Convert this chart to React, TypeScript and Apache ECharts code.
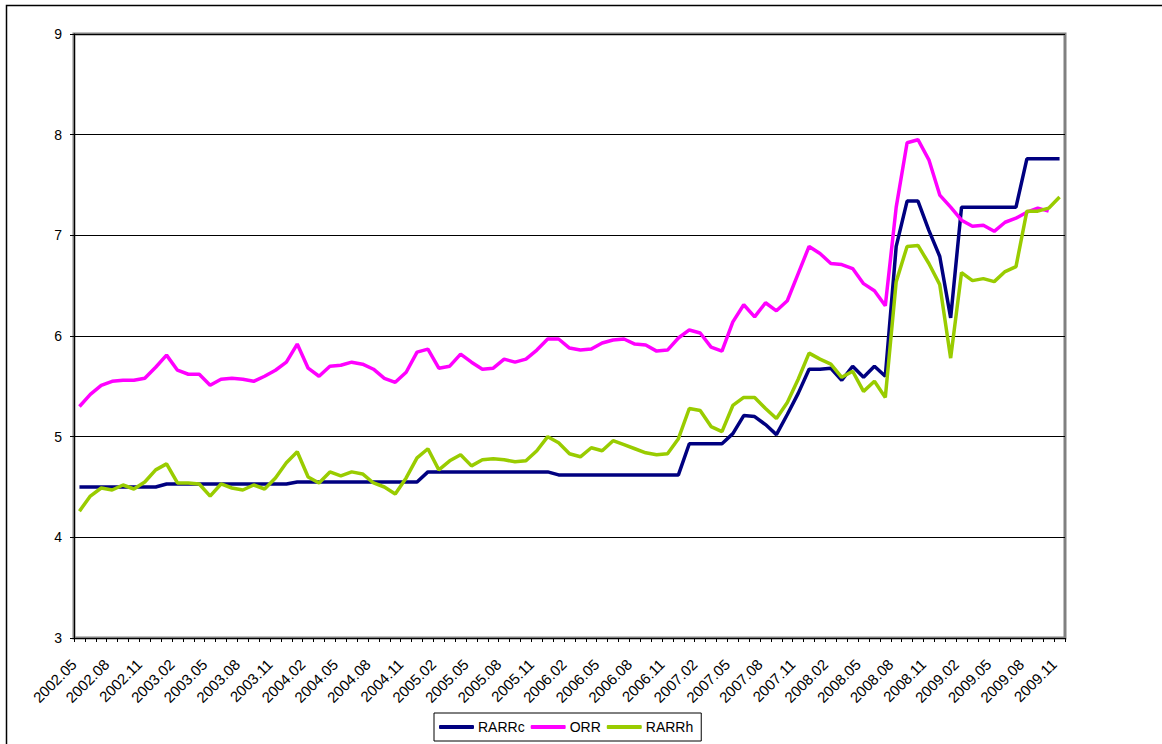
import { useEffect, useRef } from 'react';
import * as echarts from 'echarts';

// monthly points, 2002.05 .. 2009.11
const categories: string[] = Array.from({ length: 91 }, (_, i) => {
  const t = 2002 * 12 + 4 + i;
  const year = Math.floor(t / 12);
  const month = (t % 12) + 1;
  return `${year}.${String(month).padStart(2, '0')}`;
});

const rarrc = [
  4.5, 4.5, 4.5, 4.5, 4.5, 4.5, 4.5, 4.5, 4.53, 4.53,
  4.53, 4.53, 4.53, 4.53, 4.53, 4.53, 4.53, 4.53, 4.53, 4.53,
  4.55, 4.55, 4.55, 4.55, 4.55, 4.55, 4.55, 4.55, 4.55, 4.55,
  4.55, 4.55, 4.65, 4.65, 4.65, 4.65, 4.65, 4.65, 4.65, 4.65,
  4.65, 4.65, 4.65, 4.65, 4.62, 4.62, 4.62, 4.62, 4.62, 4.62,
  4.62, 4.62, 4.62, 4.62, 4.62, 4.62, 4.93, 4.93, 4.93, 4.93,
  5.03, 5.21, 5.2, 5.12, 5.02, 5.22, 5.43, 5.67, 5.67, 5.68,
  5.56, 5.7, 5.59, 5.7, 5.6, 6.89, 7.34, 7.34, 7.05, 6.79,
  6.18, 7.28, 7.28, 7.28, 7.28, 7.28, 7.28, 7.76, 7.76, 7.76,
  7.76,
];

const orr = [
  5.3, 5.42, 5.51, 5.55, 5.56, 5.56, 5.58, 5.69, 5.81, 5.66,
  5.62, 5.62, 5.51, 5.57, 5.58, 5.57, 5.55, 5.6, 5.66, 5.74,
  5.92, 5.68, 5.6, 5.7, 5.71, 5.74, 5.72, 5.67, 5.58, 5.54,
  5.64, 5.84, 5.87, 5.68, 5.7, 5.82, 5.74, 5.67, 5.68, 5.77,
  5.74, 5.77, 5.86, 5.97, 5.97, 5.88, 5.86, 5.87, 5.93, 5.96,
  5.97, 5.92, 5.91, 5.85, 5.86, 5.98, 6.06, 6.03, 5.89, 5.85,
  6.14, 6.31, 6.19, 6.33, 6.25, 6.35, 6.62, 6.89, 6.82, 6.72,
  6.71, 6.67, 6.52, 6.45, 6.3, 7.28, 7.92, 7.95, 7.75, 7.4,
  7.28, 7.15, 7.09, 7.1, 7.04, 7.13, 7.17, 7.23, 7.27, 7.24,
  null,
];

const rarrh = [
  4.26, 4.41, 4.49, 4.47, 4.52, 4.48, 4.55, 4.67, 4.73, 4.54,
  4.54, 4.53, 4.41, 4.53, 4.49, 4.47, 4.52, 4.48, 4.59, 4.74,
  4.85, 4.6, 4.54, 4.65, 4.61, 4.65, 4.63, 4.54, 4.5, 4.43,
  4.59, 4.79, 4.88, 4.67, 4.76, 4.82, 4.71, 4.77, 4.78, 4.77,
  4.75, 4.76, 4.86, 5.0, 4.94, 4.83, 4.8, 4.89, 4.86, 4.96,
  4.92, 4.88, 4.84, 4.82, 4.83, 4.98, 5.28, 5.26, 5.1, 5.05,
  5.31, 5.39, 5.39, 5.28, 5.18, 5.34, 5.57, 5.83, 5.77, 5.72,
  5.59, 5.65, 5.45, 5.55, 5.39, 6.54, 6.89, 6.9, 6.72, 6.51,
  5.78, 6.63, 6.55, 6.57, 6.54, 6.64, 6.69, 7.24, 7.24, 7.27,
  7.38,
];

const seriesList = [
  { name: 'RARRc', data: rarrc, color: '#000080' },
  { name: 'ORR', data: orr, color: '#FF00FF' },
  { name: 'RARRh', data: rarrh, color: '#99CC00' },
];

const font = '"Liberation Sans", Arial, sans-serif';

const App = () => {
  const chartRef = useRef<HTMLDivElement>(null);

  useEffect(() => {
    if (!chartRef.current) return;

    const chart = echarts.init(chartRef.current, undefined, { renderer: 'svg' });

    const option = {
      animation: false,
      backgroundColor: '#fff',
      textStyle: { fontFamily: font },
      graphic: [
        {
          type: 'rect',
          shape: { x: 6.5, y: 5.5, width: 1200, height: 800 },
          style: { fill: 'none', stroke: '#000', lineWidth: 1.5 },
          silent: true,
          z: -10,
        },
      ],
      legend: {
        data: seriesList.map(s => s.name),
        left: 434,
        top: 713,
        orient: 'horizontal',
        icon: 'roundRect',
        itemWidth: 35,
        itemHeight: 4,
        itemGap: 6,
        padding: [7, 8, 7, 5],
        borderColor: '#000',
        borderWidth: 1,
        textStyle: { fontSize: 14, color: '#000', fontFamily: font, padding: [0, 0, 0, -1] },
      },
      grid: {
        left: 74,
        right: 97,
        top: 34,
        bottom: 106,
        show: true,
        borderColor: '#808080',
        borderWidth: 3,
      },
      xAxis: {
        type: 'category',
        data: categories,
        boundaryGap: true,
        axisLine: { show: true, lineStyle: { color: '#000', width: 1 } },
        axisTick: { show: true, interval: 0, length: 4, lineStyle: { color: '#000' } },
        axisLabel: {
          interval: 2,
          rotate: 45,
          margin: 18,
          fontSize: 15,
          color: '#000',
          fontFamily: font,
          padding: [0, 8, 0, 0],
        },
        splitLine: { show: false },
      },
      yAxis: {
        type: 'value',
        min: 3,
        max: 9,
        interval: 1,
        axisLine: { show: true, lineStyle: { color: '#000', width: 1 } },
        axisTick: { show: true, length: 4, lineStyle: { color: '#000' } },
        axisLabel: { margin: 12, fontSize: 14, color: '#000', fontFamily: font },
        splitLine: { show: true, lineStyle: { color: '#000', width: 1 } },
      },
      series: seriesList.map(s => ({
        name: s.name,
        type: 'line',
        data: s.data,
        color: s.color,
        symbol: 'none',
        connectNulls: false,
        lineStyle: { width: 3.5, color: s.color },
      })),
    };

    chart.setOption(option);

    return () => {
      chart.dispose();
    };
  }, []);

  return (
    <div
      ref={chartRef}
      style={{ position: 'absolute', left: 0, top: 0, width: '1162px', height: '744px' }}
    />
  );
};

export default App;
